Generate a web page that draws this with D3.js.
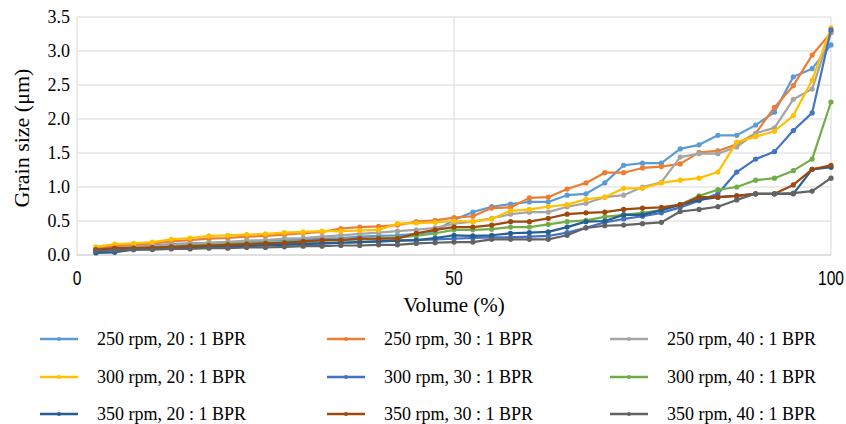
<!DOCTYPE html>
<html>
<head>
<meta charset="utf-8">
<script src="https://cdn.jsdelivr.net/npm/d3@7"></script>
<style>
  body { margin: 0; background: #fff; }
  text { font-family: "Liberation Serif", "Times New Roman", serif; fill: #000; }
  .xtick { font-family: "Liberation Sans", Arial, sans-serif; }
</style>
</head>
<body>
<svg id="chart" width="846" height="424"></svg>
<script>
// Volume (%) at each measured point
const volume = d3.range(1, 41).map((i) => i * 2.5);

const seriesNames = [
  "250 rpm, 20 : 1 BPR", "250 rpm, 30 : 1 BPR", "250 rpm, 40 : 1 BPR",
  "300 rpm, 20 : 1 BPR", "300 rpm, 30 : 1 BPR", "300 rpm, 40 : 1 BPR",
  "350 rpm, 20 : 1 BPR", "350 rpm, 30 : 1 BPR", "350 rpm, 40 : 1 BPR",
];
const seriesColors = [
  "#5B9BD5", "#ED7D31", "#A5A5A5",
  "#FFC000", "#4472C4", "#70AD47",
  "#255E91", "#9E480E", "#636363",
];

// grain size (um) per series
const s250_20 = [0.08, 0.10, 0.12, 0.14, 0.16, 0.17, 0.18, 0.19, 0.20, 0.21,
  0.22, 0.23, 0.24, 0.25, 0.27, 0.28, 0.29, 0.31, 0.35, 0.52,
  0.63, 0.71, 0.75, 0.78, 0.78, 0.88, 0.90, 1.06, 1.32, 1.35,
  1.35, 1.56, 1.62, 1.76, 1.76, 1.91, 2.10, 2.62, 2.74, 3.09];
const s250_30 = [0.10, 0.13, 0.15, 0.17, 0.20, 0.22, 0.24, 0.25, 0.27, 0.28,
  0.30, 0.32, 0.34, 0.39, 0.41, 0.42, 0.44, 0.49, 0.51, 0.55,
  0.57, 0.69, 0.70, 0.84, 0.85, 0.97, 1.06, 1.21, 1.21, 1.28,
  1.30, 1.34, 1.51, 1.53, 1.63, 1.79, 2.17, 2.49, 2.94, 3.27];
const s250_40 = [0.08, 0.10, 0.12, 0.13, 0.15, 0.16, 0.18, 0.19, 0.21, 0.22,
  0.24, 0.25, 0.27, 0.29, 0.31, 0.33, 0.35, 0.37, 0.40, 0.46,
  0.49, 0.54, 0.60, 0.63, 0.63, 0.71, 0.76, 0.85, 0.88, 1.00,
  1.07, 1.44, 1.49, 1.49, 1.59, 1.79, 1.87, 2.29, 2.44, 3.28];
const s300_20 = [0.12, 0.16, 0.17, 0.19, 0.23, 0.25, 0.28, 0.29, 0.30, 0.31,
  0.33, 0.34, 0.35, 0.35, 0.36, 0.37, 0.46, 0.47, 0.48, 0.50,
  0.49, 0.53, 0.65, 0.67, 0.71, 0.74, 0.82, 0.85, 0.98, 0.98,
  1.06, 1.10, 1.13, 1.22, 1.66, 1.74, 1.82, 2.05, 2.57, 3.34];
const s300_30 = [0.05, 0.07, 0.09, 0.10, 0.11, 0.12, 0.12, 0.13, 0.14, 0.15,
  0.16, 0.17, 0.17, 0.18, 0.19, 0.20, 0.21, 0.22, 0.23, 0.24,
  0.25, 0.26, 0.26, 0.27, 0.28, 0.33, 0.40, 0.48, 0.53, 0.57,
  0.62, 0.70, 0.80, 0.90, 1.22, 1.41, 1.52, 1.83, 2.09, 3.31];
const s300_40 = [0.07, 0.09, 0.10, 0.11, 0.12, 0.14, 0.15, 0.16, 0.17, 0.18,
  0.19, 0.20, 0.21, 0.22, 0.23, 0.24, 0.26, 0.28, 0.32, 0.37,
  0.37, 0.38, 0.41, 0.41, 0.45, 0.49, 0.51, 0.56, 0.59, 0.62,
  0.66, 0.74, 0.87, 0.96, 1.00, 1.10, 1.13, 1.24, 1.41, 2.25];
const s350_20 = [0.03, 0.04, 0.08, 0.09, 0.10, 0.11, 0.12, 0.12, 0.13, 0.14,
  0.15, 0.16, 0.17, 0.18, 0.19, 0.20, 0.21, 0.22, 0.25, 0.29,
  0.28, 0.29, 0.32, 0.33, 0.34, 0.41, 0.49, 0.50, 0.59, 0.59,
  0.66, 0.74, 0.81, 0.85, 0.87, 0.90, 0.90, 0.90, 1.26, 1.29];
const s350_30 = [0.08, 0.10, 0.10, 0.11, 0.12, 0.13, 0.14, 0.15, 0.16, 0.17,
  0.18, 0.20, 0.22, 0.22, 0.24, 0.24, 0.24, 0.32, 0.37, 0.41,
  0.41, 0.44, 0.49, 0.49, 0.54, 0.60, 0.62, 0.63, 0.67, 0.69,
  0.70, 0.74, 0.85, 0.85, 0.87, 0.90, 0.90, 1.03, 1.26, 1.32];
const s350_40 = [0.06, 0.07, 0.08, 0.08, 0.09, 0.09, 0.10, 0.10, 0.11, 0.11,
  0.12, 0.13, 0.13, 0.14, 0.14, 0.15, 0.15, 0.17, 0.18, 0.19,
  0.19, 0.23, 0.23, 0.23, 0.23, 0.29, 0.40, 0.43, 0.44, 0.46,
  0.48, 0.64, 0.67, 0.71, 0.81, 0.90, 0.90, 0.91, 0.94, 1.13];

const seriesValues = [s250_20, s250_30, s250_40, s300_20, s300_30, s300_40, s350_20, s350_30, s350_40];

const yTicks = [0, 0.5, 1.0, 1.5, 2.0, 2.5, 3.0, 3.5];
const xTicks = [0, 50, 100];

function drawChart() {
  const svg = d3.select("#chart");
  const plot = { left: 77, right: 831, top: 17, bottom: 255 };

  const x = d3.scaleLinear().domain([0, 100]).range([plot.left, plot.right]);
  const y = d3.scaleLinear().domain([0, 3.5]).range([plot.bottom, plot.top]);

  // horizontal gridlines
  svg.append("g")
    .selectAll("line")
    .data(yTicks.slice(1))
    .enter()
    .append("line")
    .attr("x1", plot.left)
    .attr("x2", plot.right)
    .attr("y1", (d) => y(d))
    .attr("y2", (d) => y(d))
    .attr("stroke", "#d9d9d9")
    .attr("stroke-width", 1);

  // vertical gridlines
  svg.append("g")
    .selectAll("line")
    .data(xTicks)
    .enter()
    .append("line")
    .attr("x1", (d) => x(d))
    .attr("x2", (d) => x(d))
    .attr("y1", plot.top)
    .attr("y2", plot.bottom)
    .attr("stroke", "#d9d9d9")
    .attr("stroke-width", 1);

  // x axis line
  svg.append("line")
    .attr("x1", plot.left)
    .attr("x2", plot.right)
    .attr("y1", y(0))
    .attr("y2", y(0))
    .attr("stroke", "#bfbfbf")
    .attr("stroke-width", 1);

  // y tick labels
  svg.append("g")
    .selectAll("text")
    .data(yTicks)
    .enter()
    .append("text")
    .attr("x", 70)
    .attr("y", (d) => y(d))
    .attr("dy", "0.35em")
    .attr("text-anchor", "end")
    .style("font-size", "18px")
    .text((d) => d3.format(".1f")(d));

  // x tick labels (narrow face, squeezed horizontally)
  svg.append("g")
    .selectAll("text")
    .data(xTicks)
    .enter()
    .append("text")
    .attr("class", "xtick")
    .attr("transform", (d) => `translate(${x(d)},285) scale(0.78,1)`)
    .attr("text-anchor", "middle")
    .style("font-size", "20px")
    .text((d) => d);

  // axis titles
  svg.append("text")
    .attr("transform", `translate(29,${(plot.top + plot.bottom) / 2 + 2}) rotate(-90)`)
    .attr("text-anchor", "middle")
    .style("font-size", "22px")
    .text("Grain size (\u03bcm)");

  svg.append("text")
    .attr("x", (plot.left + plot.right) / 2)
    .attr("y", 312)
    .attr("text-anchor", "middle")
    .style("font-size", "21px")
    .text("Volume (%)");

  const line = d3.line()
    .x((d, i) => x(volume[i]))
    .y((d) => y(d));

  // series lines and markers
  seriesValues.forEach((vals, k) => {
    const g = svg.append("g");
    g.append("path")
      .attr("d", line(vals))
      .attr("fill", "none")
      .attr("stroke", seriesColors[k])
      .attr("stroke-width", 2.2)
      .attr("stroke-linejoin", "round");
    g.selectAll("circle")
      .data(vals)
      .enter()
      .append("circle")
      .attr("cx", (d, i) => x(volume[i]))
      .attr("cy", (d) => y(d))
      .attr("r", 2.6)
      .attr("fill", seriesColors[k]);
  });

  // legend
  const colX = [40, 327, 610];
  const rowY = [339, 377, 414];
  const legend = svg.append("g")
    .selectAll("g")
    .data(seriesNames)
    .enter()
    .append("g")
    .attr("transform", (d, i) => `translate(${colX[i % 3]},${rowY[Math.floor(i / 3)]})`);

  legend.append("line")
    .attr("x1", 0)
    .attr("x2", 38)
    .attr("stroke", (d, i) => seriesColors[i])
    .attr("stroke-width", 2.5);
  legend.append("circle")
    .attr("cx", 19)
    .attr("r", 2)
    .attr("fill", (d, i) => seriesColors[i]);
  legend.append("text")
    .attr("x", 57)
    .attr("dy", "0.35em")
    .style("font-size", "18px")
    .text((d) => d);
}

drawChart();
</script>
</body>
</html>
